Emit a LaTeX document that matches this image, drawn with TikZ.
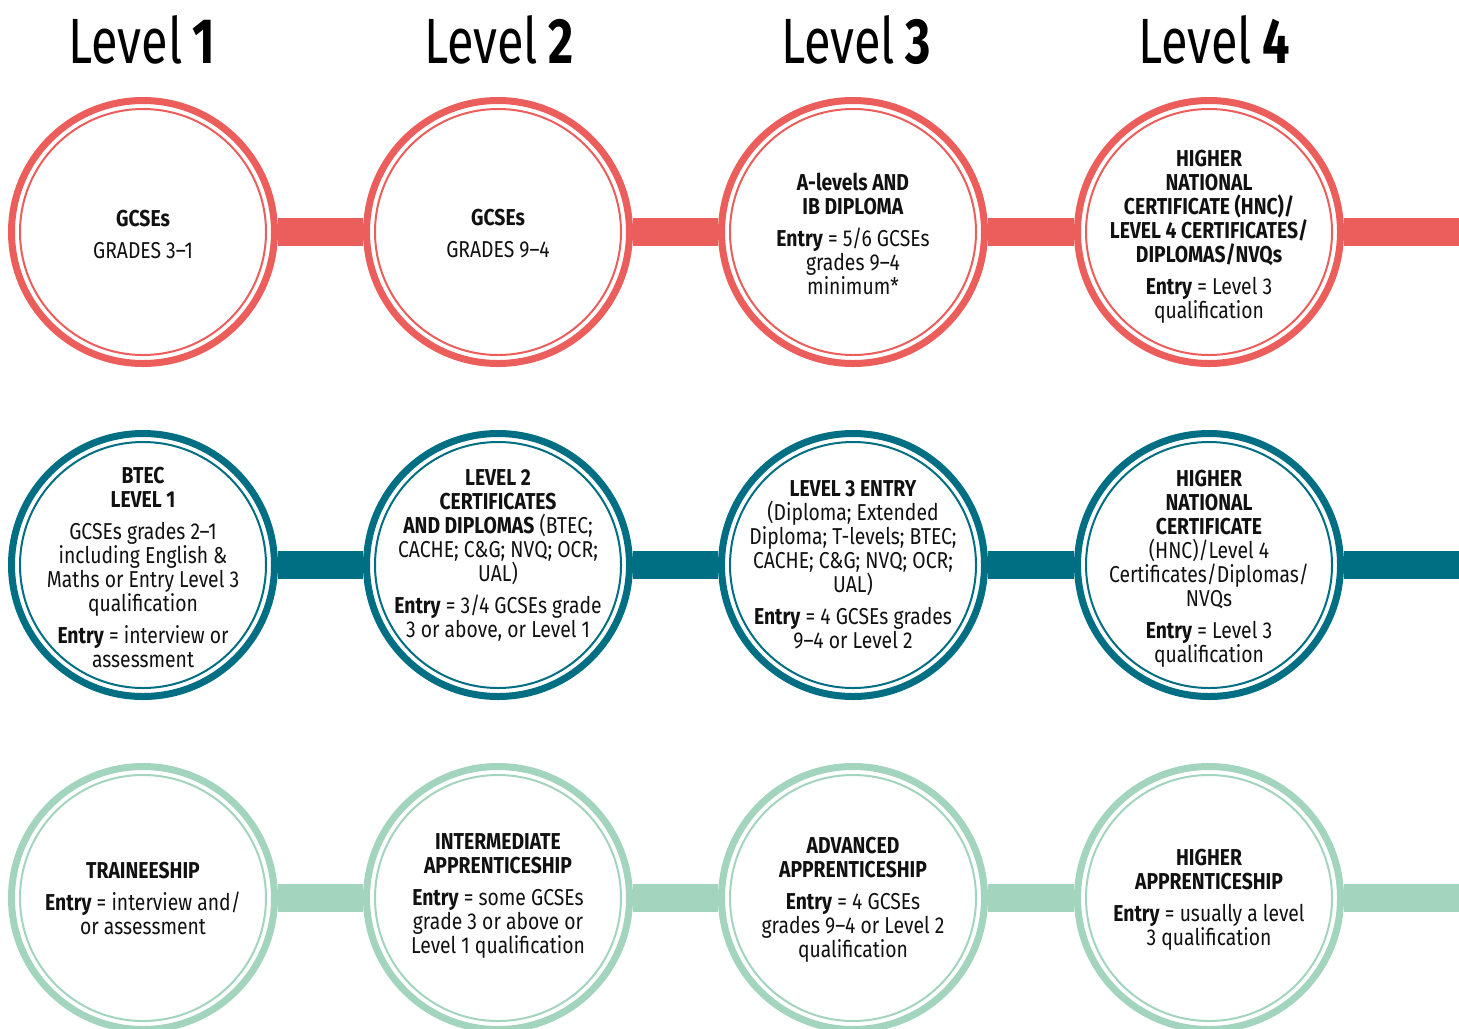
\documentclass[tikz,border=0pt]{standalone}
\usepackage{fontspec}
\setmainfont{Fira Sans}[FakeStretch=0.84]
\newfontfamily\headfont{Fira Sans}[FakeStretch=0.76]
\definecolor{lvred}{HTML}{EC5E5B}
\definecolor{lvteal}{HTML}{006E83}
\definecolor{lvmint}{HTML}{A3D5BE}
\definecolor{lvtext}{HTML}{111111}
\tikzset{
  qual/.style={circle, fill=white, line width=3.5pt, minimum size=131.5pt, inner sep=0pt},
  inring/.style={line width=1pt},
  qtext/.style={align=center, text=lvtext, inner sep=0pt, yshift=-1pt, font=\fontsize{11.5}{12}\selectfont},
  lvhead/.style={inner sep=0pt, text=black, font=\headfont\fontsize{32}{36}\selectfont},
  bar/.style={line width=14pt}
}
\begin{document}
\begin{tikzpicture}[x=0.5pt, y=-0.5pt]
\useasboundingbox (0,0) rectangle (1459,1028);

% level headings
\node[lvhead] (h1) at (142,40) {Level\,\textbf{1}};
\node[lvhead] (h2) at (499,40) {Level\,\textbf{2}};
\node[lvhead] (h3) at (856,40) {Level\,\textbf{3}};
\node[lvhead] (h4) at (1214,40) {Level\,\textbf{4}};

% general qualifications
\node[qual, draw=lvred] (gcse1) at (143,232) {};
\node[qual, draw=lvred] (gcse2) at (498,232) {};
\node[qual, draw=lvred] (alevel) at (853,232) {};
\node[qual, draw=lvred] (hnc) at (1209,232) {};
\foreach \n in {gcse1,gcse2,alevel,hnc}
  \draw[inring, lvred] (\n.center) circle (61.5pt);
\coordinate (redend) at (1470,232);
\draw[bar, lvred] (gcse1) -- (gcse2) -- (alevel) -- (hnc) -- (redend);

\node[qtext] (gcse1-t) at (gcse1) {\textbf{GCSEs}\\[4pt] GRADES 3–1};
\node[qtext] (gcse2-t) at (gcse2) {\textbf{GCSEs}\\[4pt] GRADES 9–4};
\node[qtext] (alevel-t) at (alevel) {\textbf{A-levels AND}\\ \textbf{IB DIPLOMA}\\[4pt]
  \textbf{Entry} = 5/6 GCSEs\\ grades 9–4\\ minimum*};
\node[qtext, yshift=-1.5pt] (hnc-t) at (hnc) {\textbf{HIGHER}\\ \textbf{NATIONAL}\\ \textbf{CERTIFICATE (HNC)/}\\
  \textbf{LEVEL 4 CERTIFICATES/}\\ \textbf{DIPLOMAS/NVQs}\\[4pt]
  \textbf{Entry} = Level 3\\ qualification};

% vocational qualifications
\node[qual, draw=lvteal] (btec1) at (143,565) {};
\node[qual, draw=lvteal] (cert2) at (498,565) {};
\node[qual, draw=lvteal] (entry3) at (853,565) {};
\node[qual, draw=lvteal] (hnc4) at (1209,565) {};
\foreach \n in {btec1,cert2,entry3,hnc4}
  \draw[inring, lvteal] (\n.center) circle (61.5pt);
\coordinate (tealend) at (1470,565);
\draw[bar, lvteal] (btec1) -- (cert2) -- (entry3) -- (hnc4) -- (tealend);

\node[qtext] (btec1-t) at (btec1) {\textbf{BTEC}\\ \textbf{LEVEL 1}\\[4pt]
  GCSEs grades 2–1\\ including English \&\\ Maths or Entry Level 3\\ qualification\\[4pt]
  \textbf{Entry} = interview or\\ assessment};
\node[qtext, yshift=6pt] (cert2-t) at (cert2) {\textbf{LEVEL 2}\\ \textbf{CERTIFICATES}\\
  \textbf{AND DIPLOMAS} (BTEC;\\ CACHE; C\&G; NVQ; OCR;\\ UAL)\\[4pt]
  \textbf{Entry} = 3/4 GCSEs grade\\ 3 or above, or Level 1};
\node[qtext, yshift=1pt] (entry3-t) at (entry3) {\textbf{LEVEL 3 ENTRY}\\ (Diploma; Extended\\
  Diploma; T-levels; BTEC;\\ CACHE; C\&G; NVQ; OCR;\\ UAL)\\[4pt]
  \textbf{Entry} = 4 GCSEs grades\\ 9–4 or Level 2};
\node[qtext, yshift=-1pt] (hnc4-t) at (hnc4) {\textbf{HIGHER}\\ \textbf{NATIONAL}\\ \textbf{CERTIFICATE}\\
  (HNC)/Level 4\\ Certificates/Diplomas/\\ NVQs\\[4pt]
  \textbf{Entry} = Level 3\\ qualification};

% apprenticeships
\node[qual, draw=lvmint] (train) at (143,898) {};
\node[qual, draw=lvmint] (inter) at (498,898) {};
\node[qual, draw=lvmint] (advanced) at (853,898) {};
\node[qual, draw=lvmint] (higher) at (1209,898) {};
\foreach \n in {train,inter,advanced,higher}
  \draw[inring, lvmint] (\n.center) circle (61.5pt);
\coordinate (mintend) at (1470,898);
\draw[bar, lvmint] (train) -- (inter) -- (advanced) -- (higher) -- (mintend);

\node[qtext, yshift=1pt] (train-t) at (train) {\textbf{TRAINEESHIP}\\[4pt]
  \textbf{Entry} = interview and/\\ or assessment};
\node[qtext, yshift=2pt] (inter-t) at (inter) {\textbf{INTERMEDIATE}\\ \textbf{APPRENTICESHIP}\\[4pt]
  \textbf{Entry} = some GCSEs\\ grade 3 or above or\\ Level 1 qualification};
\node[qtext] (advanced-t) at (advanced) {\textbf{ADVANCED}\\ \textbf{APPRENTICESHIP}\\[4pt]
  \textbf{Entry} = 4 GCSEs\\ grades 9–4 or Level 2\\ qualification};
\node[qtext] (higher-t) at (higher) {\textbf{HIGHER}\\ \textbf{APPRENTICESHIP}\\[4pt]
  \textbf{Entry} = usually a level\\ 3 qualification};
\end{tikzpicture}
\end{document}
